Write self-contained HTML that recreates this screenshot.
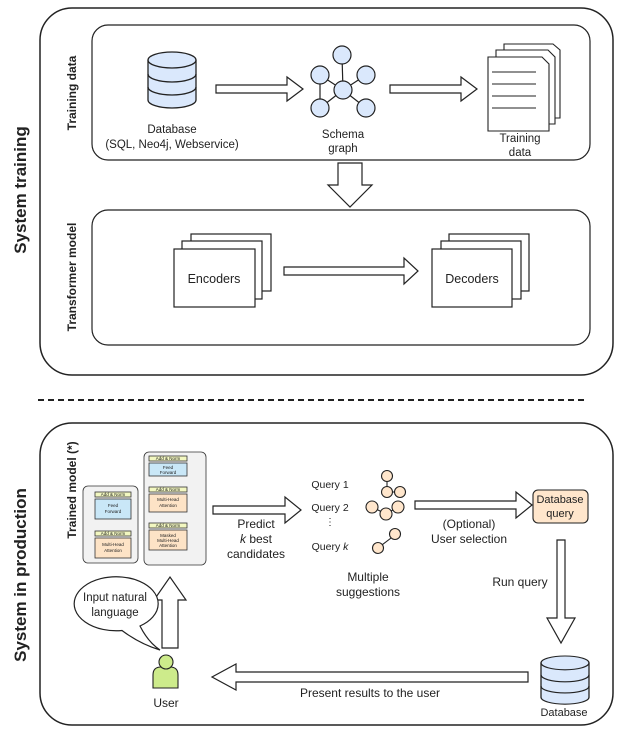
<!DOCTYPE html>
<html><head><meta charset="utf-8"><style>
html,body{margin:0;padding:0;background:#fff}
svg{display:block}
text{font-family:"Liberation Sans",sans-serif;fill:#222}
</style></head><body>
<svg width="624" height="735" viewBox="0 0 624 735" xmlns="http://www.w3.org/2000/svg">
<defs>
<g id="db">
 <path d="M0,8 v40 a24,8 0 0 0 48,0 v-40" fill="#dae8fc" stroke="#222" stroke-width="1.3"/>
 <ellipse cx="24" cy="8" rx="24" ry="8" fill="#dae8fc" stroke="#222" stroke-width="1.3"/>
 <path d="M0,22 a24,8 0 0 0 48,0 M0,35 a24,8 0 0 0 48,0" fill="none" stroke="#222" stroke-width="1.3"/>
</g>
</defs>
<g fill="none" stroke="#222">
 <rect x="40" y="8" width="573" height="367" rx="32" stroke-width="1.5"/>
 <rect x="92" y="25" width="498" height="135" rx="16" stroke-width="1.2"/>
 <rect x="92" y="210" width="498" height="135" rx="16" stroke-width="1.2"/>
 <line x1="38" y1="400" x2="586" y2="400" stroke-width="2" stroke-dasharray="6,4"/>
 <rect x="40" y="423" width="573" height="302" rx="32" stroke-width="1.5"/>
</g>
<text transform="translate(26,190) rotate(-90)" text-anchor="middle" font-size="17" font-weight="bold">System training</text>
<text transform="translate(76,93) rotate(-90)" text-anchor="middle" font-size="12" font-weight="bold">Training data</text>
<text transform="translate(76,277) rotate(-90)" text-anchor="middle" font-size="12" font-weight="bold">Transformer model</text>
<text transform="translate(26,575) rotate(-90)" text-anchor="middle" font-size="17" font-weight="bold">System in production</text>
<text transform="translate(76,490) rotate(-90)" text-anchor="middle" font-size="12" font-weight="bold">Trained model (*)</text>

<use href="#db" x="148" y="52"/>
<text x="172" y="133" text-anchor="middle" font-size="11.5">Database</text>
<text x="172" y="148" text-anchor="middle" font-size="11.5">(SQL, Neo4j, Webservice)</text>
<g fill="#fff" stroke="#222" stroke-width="1.2">
 <path d="M216,85 H287 V77 L303,89 L287,101 V93 H216 Z"/>
 <path d="M390,85 H461 V77 L477,89 L461,101 V93 H390 Z"/>
 <path d="M338,163 H362 V185 H372 L350,207 L328,185 H338 Z"/>
 <path d="M284,267 H404 V258 L418,271 L404,284 V275 H284 Z"/>
</g>
<g stroke="#222" stroke-width="1.2">
 <line x1="342" y1="56" x2="343" y2="90"/><line x1="343" y1="90" x2="320" y2="75"/><line x1="320" y1="75" x2="320" y2="108"/>
 <line x1="343" y1="90" x2="366" y2="75"/><line x1="343" y1="90" x2="366" y2="108"/><line x1="343" y1="90" x2="320" y2="108"/>
</g>
<g fill="#dae8fc" stroke="#222" stroke-width="1.2">
 <circle cx="342" cy="55" r="9"/><circle cx="320" cy="75" r="9"/><circle cx="366" cy="75" r="9"/>
 <circle cx="343" cy="90" r="9"/><circle cx="320" cy="108" r="9"/><circle cx="366" cy="108" r="9"/>
</g>
<text x="343" y="138" text-anchor="middle" font-size="11.5">Schema</text>
<text x="343" y="152" text-anchor="middle" font-size="11.5">graph</text>
<g fill="#fff" stroke="#222" stroke-width="1.1">
 <path d="M504,44 H553 L560,50 V118 H504 Z"/><path d="M496,50 H548 L555,57 V124 H496 Z"/><path d="M488,57 H542 L549,64 V131 H488 Z"/>
 <path d="M492,72 H536 M492,84 H536 M492,96 H536 M492,108 H536"/>
</g>
<text x="520" y="142" text-anchor="middle" font-size="11.5">Training</text>
<text x="520" y="156" text-anchor="middle" font-size="11.5">data</text>

<g fill="#fff" stroke="#222" stroke-width="1.2">
 <rect x="191" y="234" width="80" height="57"/><rect x="182" y="241" width="80" height="58"/><rect x="174" y="249" width="81" height="58"/>
 <rect x="449" y="234" width="80" height="57"/><rect x="441" y="241" width="80" height="58"/><rect x="432" y="249" width="80" height="58"/>
</g>
<text x="214" y="283" text-anchor="middle" font-size="12.5">Encoders</text>
<text x="472" y="283" text-anchor="middle" font-size="12.5">Decoders</text>

<!-- trained model -->
<g stroke="#333" stroke-width="0.8">
 <rect x="83" y="486" width="55" height="77" rx="5" fill="#f2f2f2"/>
 <rect x="144" y="452" width="62" height="113" rx="5" fill="#f2f2f2"/>
 <rect x="95" y="492" width="36" height="5" fill="#f2f7c0"/><rect x="95" y="499" width="36" height="20" fill="#c9e7f7"/>
 <rect x="95" y="531" width="36" height="5" fill="#f2f7c0"/><rect x="95" y="538" width="36" height="20" fill="#fde3c6"/>
 <rect x="149" y="456" width="38" height="5" fill="#f2f7c0"/><rect x="149" y="463" width="38" height="13" fill="#c9e7f7"/>
 <rect x="149" y="487" width="38" height="5" fill="#f2f7c0"/><rect x="149" y="494" width="38" height="18" fill="#fde3c6"/>
 <rect x="149" y="523" width="38" height="5" fill="#f2f7c0"/><rect x="149" y="530" width="38" height="20" fill="#fde3c6"/>
</g>
<g font-size="4.5" text-anchor="middle">
 <text x="113" y="496">Add &amp; Norm</text><text x="113" y="507">Feed</text><text x="113" y="513">Forward</text>
 <text x="113" y="535">Add &amp; Norm</text><text x="113" y="546">Multi-Head</text><text x="113" y="552">Attention</text>
 <text x="168" y="460">Add &amp; Norm</text><text x="168" y="469">Feed</text><text x="168" y="474">Forward</text>
 <text x="168" y="491">Add &amp; Norm</text><text x="168" y="501">Multi-Head</text><text x="168" y="507">Attention</text>
 <text x="168" y="527">Add &amp; Norm</text><text x="168" y="537">Masked</text><text x="168" y="542">Multi-Head</text><text x="168" y="547">Attention</text>
</g>
<g fill="#fff" stroke="#222" stroke-width="1.2">
 <path d="M213,506 H285 V497 L301,510 L285,523 V514 H213 Z"/>
 <path d="M415,501 H516 V492 L532,505 L516,518 V509 H415 Z"/>
 <path d="M557,540 H565 V618 H575 L561,643 L547,618 H557 Z"/>
 <path d="M528,672 H236 V664 L212,677 L236,690 V682 H528 Z"/>
 <path d="M162,648 V600 H154 L170,577 L186,600 H178 V648 Z"/>
</g>
<path d="M140,626 Q148,642 160,650 Q140,644 122,630.5 A42,27 0 1 1 140,626 Z" fill="#fff" stroke="#222" stroke-width="1.2"/>
<text x="115" y="601" text-anchor="middle" font-size="11.5">Input natural</text>
<text x="115" y="616" text-anchor="middle" font-size="11.5">language</text>
<text x="256" y="528" text-anchor="middle" font-size="12">Predict</text>
<text x="256" y="543" text-anchor="middle" font-size="12"><tspan font-style="italic">k</tspan> best</text>
<text x="256" y="558" text-anchor="middle" font-size="12">candidates</text>
<g font-size="10.5" text-anchor="middle">
 <text x="330" y="488">Query 1</text><text x="330" y="511">Query 2</text><text x="330" y="550">Query <tspan font-style="italic">k</tspan></text>
</g>
<text x="330" y="525" text-anchor="middle" font-size="10">⋮</text>
<g stroke="#222" stroke-width="1.1">
 <line x1="387" y1="476" x2="387" y2="492"/><line x1="387" y1="492" x2="400" y2="492"/>
 <line x1="372" y1="507" x2="386" y2="514"/><line x1="386" y1="514" x2="398" y2="507"/>
 <line x1="378" y1="548" x2="395" y2="535"/>
</g>
<g fill="#ffe6cc" stroke="#222" stroke-width="1.1">
 <circle cx="387" cy="476" r="5.5"/><circle cx="387" cy="492" r="5.5"/><circle cx="400" cy="492" r="5.5"/>
 <circle cx="372" cy="507" r="6"/><circle cx="386" cy="514" r="6"/><circle cx="398" cy="507" r="6"/>
 <circle cx="395" cy="534" r="5.5"/><circle cx="378" cy="548" r="5.5"/>
</g>
<text x="368" y="581" text-anchor="middle" font-size="12">Multiple</text>
<text x="368" y="596" text-anchor="middle" font-size="12">suggestions</text>
<text x="469" y="528" text-anchor="middle" font-size="12">(Optional)</text>
<text x="469" y="543" text-anchor="middle" font-size="12">User selection</text>
<rect x="533" y="490" width="55" height="33" rx="5" fill="#ffe6cc" stroke="#222" stroke-width="1.1"/>
<text x="560" y="503" text-anchor="middle" font-size="11">Database</text>
<text x="560" y="517" text-anchor="middle" font-size="11">query</text>
<text x="520" y="586" text-anchor="middle" font-size="12">Run query</text>
<use href="#db" transform="translate(541,656) scale(1,0.86)"/>
<text x="564" y="716" text-anchor="middle" font-size="11">Database</text>
<text x="370" y="697" text-anchor="middle" font-size="12">Present results to the user</text>
<g fill="#cdeb8b" stroke="#222" stroke-width="1.1">
 <path d="M153,688 V675 Q153,667 161,667 H170 Q178,667 178,675 V688 Z"/>
 <circle cx="166" cy="662" r="7"/>
</g>
<text x="166" y="707" text-anchor="middle" font-size="12">User</text>
</svg>
</body></html>
